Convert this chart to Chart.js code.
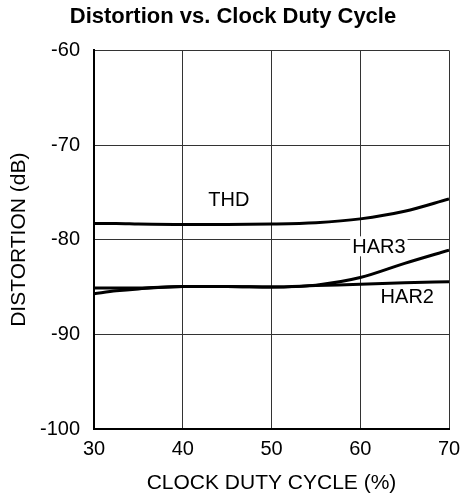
<!DOCTYPE html>
<html>
<head>
<meta charset="utf-8">
<script src="https://cdn.jsdelivr.net/npm/chart.js@4/dist/chart.umd.min.js"></script>
<style>
  html, body { margin: 0; padding: 0; background: #fff; }
  #wrap { width: 464px; height: 499px; }
</style>
</head>
<body>
<div id="wrap"><canvas id="c" width="464" height="499"></canvas></div>
<script>
const dutyCycle = [30, 32.5, 35, 40, 45, 50, 55, 60, 65, 70];
const thd  = [-78.3, -78.3, -78.35, -78.4, -78.4, -78.35, -78.2, -77.8, -77.0, -75.7];
const har3 = [-85.1, -85.1, -85.1, -84.95, -84.95, -85.0, -84.8, -84.0, -82.5, -81.1];
const har2 = [-85.7, -85.4, -85.2, -84.95, -84.95, -85.0, -84.85, -84.7, -84.55, -84.45];
const xTicks = [30, 40, 50, 60, 70];
const yTicks = [-100, -90, -80, -70, -60];
const seriesNames = ['THD', 'HAR3', 'HAR2'];
const labelAtX = [45.2, 62.1, 65.3];
const labelAtY = [-75.8, -80.7, -86.0];

const FONT = "'Liberation Sans', Arial, sans-serif";
const toPts = ys => dutyCycle.map((x, i) => ({ x: x, y: ys[i] }));

const labelPlugin = {
  id: 'curveLabels',
  afterDatasetsDraw(chart) {
    const ctx = chart.ctx, xs = chart.scales.x, ys = chart.scales.y;
    ctx.save();
    ctx.font = '20px ' + FONT;
    ctx.textAlign = 'center';
    ctx.textBaseline = 'middle';
    seriesNames.forEach((name, i) => {
      const px = xs.getPixelForValue(labelAtX[i]);
      const py = ys.getPixelForValue(labelAtY[i]);
      if (name === 'HAR3') {
        const w = ctx.measureText(name).width;
        ctx.fillStyle = '#fff';
        ctx.fillRect(px - w / 2 - 2, py - 10, w + 4, 20);
      }
      ctx.fillStyle = '#000';
      ctx.fillText(name, px, py + 1);
    });
    ctx.restore();
  }
};

new Chart(document.getElementById('c'), {
  type: 'line',
  data: {
    datasets: [
      { label: 'THD', data: toPts(thd) },
      { label: 'HAR3', data: toPts(har3) },
      { label: 'HAR2', data: toPts(har2) }
    ].map(d => Object.assign(d, {
      borderColor: '#000', borderWidth: 3, pointRadius: 0,
      fill: false, cubicInterpolationMode: 'monotone'
    }))
  },
  options: {
    responsive: false,
    animation: false,
    layout: { padding: { left: 17, right: 15, top: 0, bottom: 0 } },
    plugins: {
      legend: { display: false },
      tooltip: { enabled: false },
      title: {
        display: true,
        text: 'Distortion vs. Clock Duty Cycle',
        color: '#000',
        font: { family: FONT, size: 22, weight: 'bold' },
        padding: { top: 4, bottom: 20 }
      }
    },
    scales: {
      x: {
        type: 'linear', min: 30, max: 70,
        afterBuildTicks: s => { s.ticks = xTicks.map(v => ({ value: v })); },
        afterFit: s => { s.height = 70; s.paddingLeft = 0; s.paddingRight = 0; },
        ticks: { color: '#000', font: { family: FONT, size: 20 }, padding: 8 },
        grid: { color: '#333', lineWidth: 1, drawTicks: false },
        border: { color: '#000', width: 2 },
        title: {
          display: true, text: 'CLOCK DUTY CYCLE (%)', color: '#000',
          font: { family: FONT, size: 21 }, padding: { top: 0, bottom: 3 }
        }
      },
      y: {
        min: -100, max: -60,
        afterBuildTicks: s => { s.ticks = yTicks.map(v => ({ value: v })); },
        afterFit: s => { s.width = 77; s.paddingTop = 0; s.paddingBottom = 0; },
        ticks: { color: '#000', font: { family: FONT, size: 20 }, padding: 14 },
        grid: { color: '#333', lineWidth: 1, drawTicks: false },
        border: { color: '#000', width: 2 },
        title: {
          display: true, text: 'DISTORTION (dB)', color: '#000',
          font: { family: FONT, size: 21 }, padding: { top: -10, bottom: 0 }
        }
      }
    }
  },
  plugins: [labelPlugin]
});
</script>
</body>
</html>
